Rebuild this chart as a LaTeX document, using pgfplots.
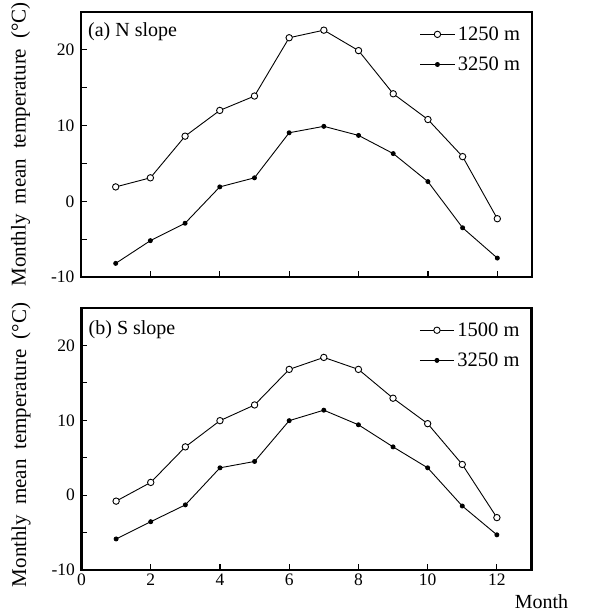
\documentclass[border=0pt]{standalone}
\usepackage{fontspec}
\setmainfont{Liberation Serif}
\usepackage{pgfplots}
\pgfplotsset{compat=1.18}
\pgfplotsset{
  panel/.style={
    scale only axis,
    xmin=0, xmax=13, ymin=-10, ymax=25,
    axis line style={line width=2.3pt},
    tick align=inside, xtick pos=left, ytick pos=left,
    tick style={line width=1.2pt, black},
    major tick length=6pt,
    xtick={0,2,...,12},
    ytick={-10,-5,...,20},
    yticklabels={-10,,0,,10,,20},
    tick label style={font=\fontsize{17.5}{21}\selectfont},
    yticklabel style={xshift=-3pt},
    ylabel style={font=\fontsize{21}{24}\selectfont, yshift=14pt},
    xlabel style={font=\fontsize{20}{24}\selectfont},
    legend style={draw=none, fill=none, at={(rel axis cs:0.985,0.96)}, anchor=north east,
      font=\fontsize{20.5}{24}\selectfont, row sep=11pt, column sep=1pt, cells={anchor=west}},
    legend image code/.code={\draw[mark repeat=2,mark phase=2] plot coordinates {(0cm,0cm) (0.6cm,0cm) (1.2cm,0cm)};},
  },
  openser/.style={black, line width=0.9pt, mark=*, mark size=3.2pt, mark options={fill=white, line width=0.9pt}},
  fillser/.style={black, line width=0.9pt, mark=*, mark size=2pt, mark options={fill=black}},
}
\begin{document}
\begin{tikzpicture}
\path[use as bounding box] (0,0) rectangle (598pt,-612pt);
\begin{axis}[panel,
  at={(81pt,-277pt)}, anchor=south west, width=451pt, height=265pt,
  xticklabels={},
  ylabel={Monthly\hspace{0.47em}mean\hspace{0.47em}temperature\hspace{0.47em}(°C)},
  ylabel style={at={(ticklabel cs:0.50)}},
]
\addplot[openser] coordinates {(1,1.9) (2,3.1) (3,8.6) (4,12.0) (5,13.9) (6,21.6) (7,22.6) (8,19.9) (9,14.2) (10,10.8) (11,5.9) (12,-2.3)};
\addlegendentry{1250 m}
\addplot[fillser] coordinates {(1,-8.2) (2,-5.2) (3,-2.9) (4,1.9) (5,3.1) (6,9.05) (7,9.9) (8,8.7) (9,6.3) (10,2.6) (11,-3.5) (12,-7.5)};
\addlegendentry{3250 m}
\node[anchor=north west, inner sep=0pt, font=\fontsize{20}{24}\selectfont] at (rel axis cs:0,1) [xshift=7pt, yshift=-10pt] {(a) N slope};
\end{axis}
\begin{axis}[panel,
  at={(81.5pt,-570pt)}, anchor=south west, width=450pt, height=262pt,
  xticklabels={0,2,4,6,8,10,12},
  xlabel={Month},
  xlabel style={at={(rel axis cs:1,0)}, anchor=base, inner sep=0pt, xshift=10pt, yshift=-38pt},
  ylabel={Monthly\hspace{0.47em}mean\hspace{0.47em}temperature\hspace{0.47em}(°C)},
  ylabel style={at={(ticklabel cs:0.477)}},
]
\addplot[openser] coordinates {(1,-0.8) (2,1.7) (3,6.45) (4,9.95) (5,12.05) (6,16.8) (7,18.4) (8,16.8) (9,12.95) (10,9.55) (11,4.1) (12,-3.0)};
\addlegendentry{1500 m}
\addplot[fillser] coordinates {(1,-5.85) (2,-3.55) (3,-1.3) (4,3.65) (5,4.5) (6,9.95) (7,11.35) (8,9.4) (9,6.45) (10,3.65) (11,-1.45) (12,-5.3)};
\addlegendentry{3250 m}
\node[anchor=north west, inner sep=0pt, font=\fontsize{20}{24}\selectfont] at (rel axis cs:0,1) [xshift=7pt, yshift=-12pt] {(b) S slope};
\end{axis}
\end{tikzpicture}
\end{document}
